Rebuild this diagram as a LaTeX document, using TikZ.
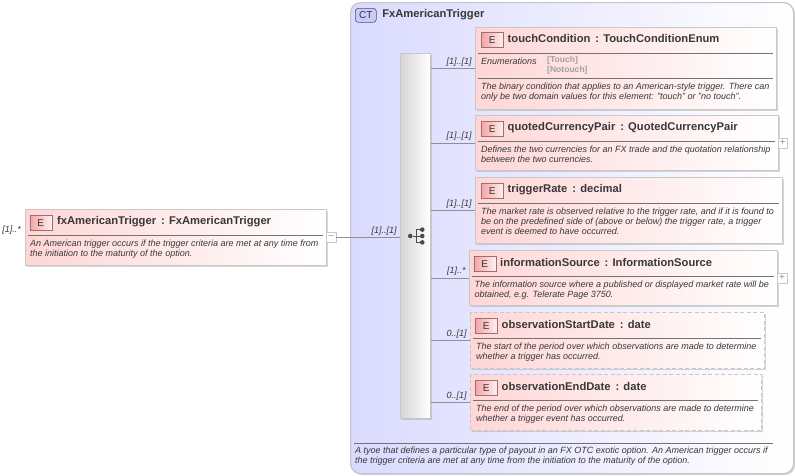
\documentclass[tikz,border=0pt]{standalone}
\usepackage{fontspec}
\setmainfont{Liberation Sans}
\usepackage{xcolor}
\usepackage{tikz}
\usetikzlibrary{positioning, calc, shadows}
\definecolor{BoxPink}{HTML}{FFD6D6}
\definecolor{BoxEdge}{HTML}{C8C8C8}
\definecolor{BadgePink}{HTML}{F6A4A4}
\definecolor{BadgeEdge}{HTML}{9A7070}
\definecolor{TypeBlue}{HTML}{DADAFF}
\definecolor{TypeEdge}{HTML}{C4C4CC}
\definecolor{CtBadge}{HTML}{C8CCF6}
\definecolor{CtEdge}{HTML}{50507A}
\definecolor{Ink}{HTML}{383838}
\definecolor{Wire}{HTML}{909090}
\definecolor{EnumGrey}{HTML}{A0A0A0}

\begin{document}
\begin{tikzpicture}[
    x=1pt, y=-1pt,
    softshadow/.style={drop shadow={shadow xshift=1.5pt, shadow yshift=-1.5pt, fill=black!40, opacity=0.4}},
    element/.style={draw=BoxEdge, line width=1.2pt, left color=BoxPink, right color=white, anchor=north west, inner sep=0pt, softshadow},
    optional/.style={element, dashed, dash pattern=on 4pt off 2.5pt},
    badge/.style={draw=BadgeEdge, line width=0.5pt, left color=BadgePink, right color=BoxPink!40, minimum width=22pt, minimum height=15pt, inner sep=0pt, text=Ink, font=\fontsize{10}{10}\selectfont},
    title/.style={text=Ink, inner sep=0pt, yshift=1pt, font=\fontsize{11.2}{12}\selectfont\bfseries},
    desc/.style={text=Ink, anchor=north west, inner sep=0pt, align=left, font=\fontsize{9}{10}\selectfont\itshape},
    card/.style={text=Ink, inner sep=0pt, font=\fontsize{9}{10}\selectfont\itshape},
    rulerow/.style={draw=Wire!80!black, line width=0.6pt},
    wire/.style={draw=Wire, line width=0.6pt},
    expander/.style={draw=BoxEdge, fill=white, line width=0.6pt, minimum size=9.5pt, inner sep=0pt, xshift=-1.2pt, text=Wire, font=\fontsize{10}{10}\selectfont},
    icondot/.style={circle, fill=black!70, minimum size=4.6pt, inner sep=0pt},
    iconline/.style={draw=black!70, line width=1pt}
]
\useasboundingbox[fill=white] (0,0) rectangle (795,475);

% Complex type
\node[draw=TypeEdge, line width=1.2pt, rounded corners=10pt, left color=TypeBlue, right color=white, anchor=north west, minimum width=443pt, minimum height=471pt, inner sep=0pt, softshadow] (ctype) at (350,2) {};
\node[draw=CtEdge, line width=0.6pt, rounded corners=3pt, fill=CtBadge, minimum width=21pt, minimum height=14pt, inner sep=0pt, text=CtEdge!60!black, font=\fontsize{10}{10}\selectfont, below right=6pt and 5pt of ctype.north west] (ctbadge) {CT};
\node[title, right=5.5pt of ctbadge] (cttitle) {FxAmericanTrigger};
\draw[rulerow] ($(ctype.south west)+(4,-31)$) -- ($(ctype.south east)+(-21,-31)$);
\node[desc, at={($(ctype.south west)+(5,-27)$)}] (ctdesc) {A tyoe that defines a particular type of payout in an FX OTC exotic option. An American trigger occurs if\\the trigger criteria are met at any time from the initiation to the maturity of the option.};

% Sequence bar
\node[draw=BoxEdge, line width=1pt, left color=black!16, right color=white, anchor=north west, minimum width=29.5pt, minimum height=365pt, inner sep=0pt, softshadow] (seqbar) at (400,53) {};
\node[icondot] (iconroot) at ($(seqbar.center)+(-5,0)$) {};
\node[icondot] (iconmid) at ($(seqbar.center)+(7,0)$) {};
\node[icondot, above=1.4pt of iconmid] (icontop) {};
\node[icondot, below=1.4pt of iconmid] (iconlow) {};
\coordinate (iconbus) at ($(iconroot)+(6,0)$);
\draw[iconline] (iconroot) -- (iconmid);
\draw[iconline] (iconbus |- icontop) -- (icontop);
\draw[iconline] (iconbus |- iconlow) -- (iconlow);
\draw[iconline] (iconbus |- icontop) -- (iconbus |- iconlow);

% fxAmericanTrigger
\node[element, minimum width=301pt, minimum height=55.5pt] (fxtrig) at (25,209) {};
\node[badge, below right=6pt and 4.5pt of fxtrig.north west] (fxbadge) {E};
\node[title, right=5pt of fxbadge] (fxtitle) {fxAmericanTrigger\, : FxAmericanTrigger};
\draw[rulerow] ($(fxtrig.north west)+(3,26)$) -- ($(fxtrig.north east)+(-4,26)$);
\node[desc, at={($(fxtrig.north west)+(5,30.5)$)}] (fxdesc) {An American trigger occurs if the trigger criteria are met at any time from\\the initiation to the maturity of the option.};
\node[expander, right=0pt of fxtrig] (fxminus) {−};
\node[card, left=4pt of fxtrig.north west, yshift=-21pt] (fxcard) {[1]..*};
\draw[wire] (fxminus) -- (fxminus -| seqbar.west) node[card, pos=1, anchor=south east, xshift=-3pt, yshift=2pt] (fxlink) {[1]..[1]};

% touchCondition
\node[element, minimum width=300.5pt, minimum height=81.5pt] (touch) at (475,27) {};
\node[badge, below right=5pt and 6pt of touch.north west] (touchbadge) {E};
\node[title, right=4pt of touchbadge] (touchtitle) {touchCondition\, : TouchConditionEnum};
\draw[rulerow] ($(touch.north west)+(3,26)$) -- ($(touch.north east)+(-4,26)$);
\node[desc, at={($(touch.north west)+(6,30.5)$)}] (touchenum) {Enumerations};
\node[desc, font=\fontsize{8.55}{10}\selectfont\bfseries, text=EnumGrey, at={($(touch.north west)+(72,29.5)$)}] (touchvals) {[Touch]\\{}[Notouch]};
\draw[rulerow] ($(touch.north west)+(3,51.5)$) -- ($(touch.north east)+(-4,51.5)$);
\node[desc, at={($(touch.north west)+(6,55.5)$)}] (touchdesc) {The binary condition that applies to an American-style trigger. There can\\only be two domain values for this element: "touch" or "no touch".};
\draw[wire] (touch -| seqbar.east) -- (touch.west) node[card, pos=1, anchor=south east, xshift=-3pt, yshift=2pt] (touchlink) {[1]..[1]};

% quotedCurrencyPair
\node[element, minimum width=302.5pt, minimum height=55pt] (quoted) at (475,115) {};
\node[badge, below right=6pt and 6pt of quoted.north west] (quotedbadge) {E};
\node[title, right=4pt of quotedbadge] (quotedtitle) {quotedCurrencyPair\, : QuotedCurrencyPair};
\draw[rulerow] ($(quoted.north west)+(3,26)$) -- ($(quoted.north east)+(-4,26)$);
\node[desc, at={($(quoted.north west)+(6,30.5)$)}] (quoteddesc) {Defines the two currencies for an FX trade and the quotation relationship\\between the two currencies.};
\node[expander, right=0pt of quoted] (quotedplus) {+};
\draw[wire] (quoted -| seqbar.east) -- (quoted.west) node[card, pos=1, anchor=south east, xshift=-3pt, yshift=2pt] (quotedlink) {[1]..[1]};

% triggerRate
\node[element, minimum width=307pt, minimum height=66pt] (rate) at (475,177) {};
\node[badge, below right=6pt and 6pt of rate.north west] (ratebadge) {E};
\node[title, right=4pt of ratebadge] (ratetitle) {triggerRate\, : decimal};
\draw[rulerow] ($(rate.north west)+(3,26)$) -- ($(rate.north east)+(-4,26)$);
\node[desc, at={($(rate.north west)+(6,30.5)$)}] (ratedesc) {The market rate is observed relative to the trigger rate, and if it is found to\\be on the predefined side of (above or below) the trigger rate, a trigger\\event is deemed to have occurred.};
\draw[wire] (rate -| seqbar.east) -- (rate.west) node[card, pos=1, anchor=south east, xshift=-3pt, yshift=2pt] (ratelink) {[1]..[1]};

% informationSource
\node[element, minimum width=308pt, minimum height=55pt] (source) at (469,250) {};
\node[badge, below right=6pt and 4.5pt of source.north west] (sourcebadge) {E};
\node[title, right=4pt of sourcebadge] (sourcetitle) {informationSource\, : InformationSource};
\draw[rulerow] ($(source.north west)+(3,26)$) -- ($(source.north east)+(-4,26)$);
\node[desc, at={($(source.north west)+(5.5,30.5)$)}] (sourcedesc) {The information source where a published or displayed market rate will be\\obtained, e.g. Telerate Page 3750.};
\node[expander, right=0pt of source] (sourceplus) {+};
\draw[wire] (source -| seqbar.east) -- (source.west) node[card, pos=1, anchor=south east, xshift=-3pt, yshift=2pt] (sourcelink) {[1]..*};

% observationStartDate
\node[optional, minimum width=294pt, minimum height=56pt] (start) at (470,312) {};
\node[badge, below right=6pt and 5pt of start.north west] (startbadge) {E};
\node[title, right=4pt of startbadge] (starttitle) {observationStartDate\, : date};
\draw[rulerow] ($(start.north west)+(3,26)$) -- ($(start.north east)+(-4,26)$);
\node[desc, at={($(start.north west)+(6,30.5)$)}] (startdesc) {The start of the period over which observations are made to determine\\whether a trigger has occurred.};
\draw[wire] (start -| seqbar.east) -- (start.west) node[card, pos=1, anchor=south east, xshift=-3pt, yshift=2pt] (startlink) {0..[1]};

% observationEndDate
\node[optional, minimum width=291pt, minimum height=56pt] (finish) at (470,374) {};
\node[badge, below right=6pt and 5pt of finish.north west] (finishbadge) {E};
\node[title, right=4pt of finishbadge] (finishtitle) {observationEndDate\, : date};
\draw[rulerow] ($(finish.north west)+(3,26)$) -- ($(finish.north east)+(-4,26)$);
\node[desc, at={($(finish.north west)+(6,30.5)$)}] (finishdesc) {The end of the period over which observations are made to determine\\whether a trigger event has occurred.};
\draw[wire] (finish -| seqbar.east) -- (finish.west) node[card, pos=1, anchor=south east, xshift=-3pt, yshift=2pt] (finishlink) {0..[1]};

\end{tikzpicture}
\end{document}
